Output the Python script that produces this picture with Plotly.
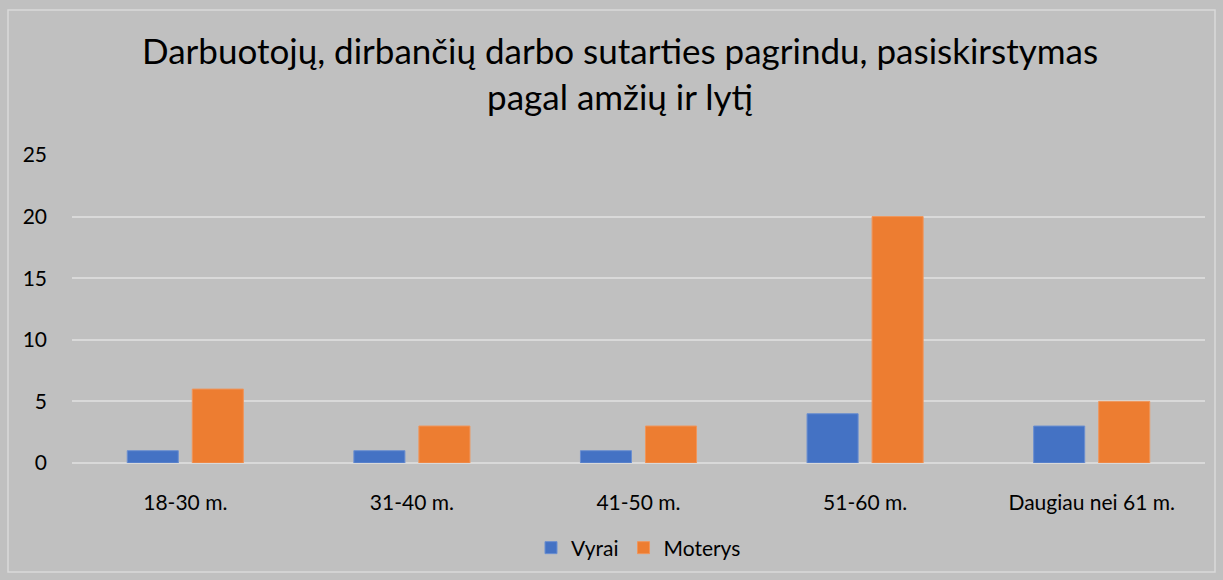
import plotly.graph_objects as go

categories = ["18-30 m.", "31-40 m.", "41-50 m.", "51-60 m.", "Daugiau nei 61 m."]
vyrai = [1, 1, 1, 4, 3]
moterys = [6, 3, 3, 20, 5]

W, H = 1223, 580
L, R, T, B = 72, 18, 155, 117
pw, ph = W - L - R, H - T - B

fig = go.Figure()
fig.add_trace(go.Bar(name="Vyrai", x=categories, y=vyrai, marker_color="#4472C4",
                     marker_line=dict(color="#6B8FD0", width=1)))
fig.add_trace(go.Bar(name="Moterys", x=categories, y=moterys, marker_color="#ED7D31",
                     marker_line=dict(color="#F0955A", width=1)))

font = "Lato, 'Open Sans', sans-serif"
fig.update_layout(
    width=W, height=H,
    margin=dict(l=L, r=R, t=T, b=B, autoexpand=False),
    paper_bgcolor="#C0C0C0", plot_bgcolor="#C0C0C0",
    barmode="group", bargap=0.426, bargroupgap=0.215,
    font=dict(family=font, color="#000000", size=21),
    title=dict(text="Darbuotojų, dirbančių darbo sutarties pagrindu, pasiskirstymas<br>pagal amžių ir lytį",
               x=0.507, xanchor="center", y=1 - 64 / H, yanchor="top",
               font=dict(size=35, family=font, color="#000000")),
    showlegend=True,
    legend=dict(orientation="h", x=0.5, xanchor="center", y=-(548 - (H - B)) / ph, yanchor="middle",
                font=dict(size=21), traceorder="normal", itemwidth=30),
    xaxis=dict(showgrid=False, showline=False, ticks="", ticklabelstandoff=25,
               tickfont=dict(size=21)),
    yaxis=dict(range=[0, 25], dtick=5, showgrid=True, gridcolor="#D9D9D9", gridwidth=2,
               zeroline=True, zerolinecolor="#D9D9D9", zerolinewidth=2,
               ticks="", ticklabelstandoff=24, tickfont=dict(size=21)),
    shapes=[dict(type="rect", xref="paper", yref="paper",
                 x0=(8 - L) / pw, x1=(1215 - L) / pw,
                 y0=(H - B - 572) / ph, y1=(H - B - 10) / ph,
                 line=dict(color="#D9D9D9", width=1.5), fillcolor="rgba(0,0,0,0)",
                 layer="below")],
)

fig.write_html("out.html", config={"displayModeBar": False},
               post_script="document.body.style.margin='0';document.body.style.overflow='hidden';")
